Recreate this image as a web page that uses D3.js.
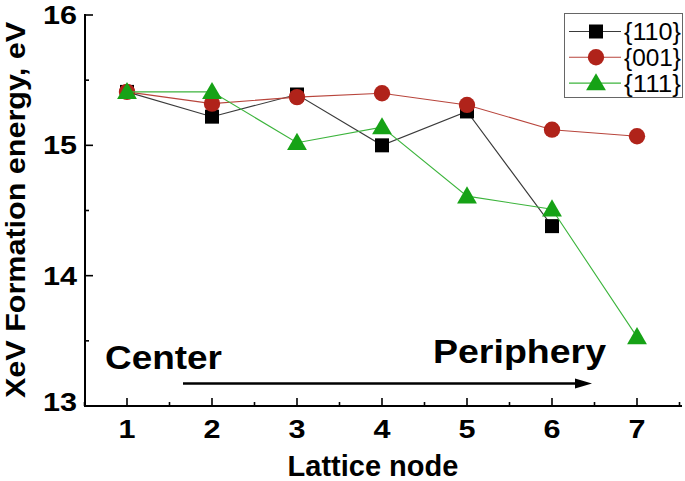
<!DOCTYPE html>
<html>
<head>
<meta charset="utf-8">
<script src="https://cdn.jsdelivr.net/npm/d3@7"></script>
<style>
  html, body { margin: 0; padding: 0; background: #fff; }
  svg { display: block; font-family: "Liberation Sans", Arial, sans-serif; }
</style>
</head>
<body>
<svg id="chart" width="685" height="481"></svg>
<script>
// ---- data ----
const nodes = [1, 2, 3, 4, 5, 6, 7];
const e110 = [15.41, 15.22, 15.39, 15.00, 15.26, 14.38];
const e001 = [15.41, 15.32, 15.37, 15.40, 15.31, 15.12, 15.07];
const e111 = [15.41, 15.41, 15.02, 15.14, 14.61, 14.51, 13.53];
const seriesNames = ["{110}", "{001}", "{111}"];
const xTicks = [1, 2, 3, 4, 5, 6, 7];
const yTicks = [13, 14, 15, 16];
const xTitle = "Lattice node";
const yTitle = "XeV Formation energy, eV";
const leftNote = "Center";
const rightNote = "Periphery";

const svg = d3.select("#chart");
const x = d3.scaleLinear().domain([0.5, 7.5]).range([84.5, 679.5]);
const y = d3.scaleLinear().domain([13, 16]).range([406, 15]);

const series = [
  { name: seriesNames[0], values: e110, line: "#3a3a3a", fill: "#000000", shape: d3.symbolSquare, size: 196 },
  { name: seriesNames[1], values: e001, line: "#b8453c", fill: "#b0231a", shape: d3.symbolCircle, size: 210 },
  { name: seriesNames[2], values: e111, line: "#3cb43c", fill: "#16a216", shape: d3.symbolTriangle, size: 170 }
];

// ---- axes ----
const axisG = svg.append("g");
axisG.append("line").attr("x1", 85).attr("x2", 682).attr("y1", y(13)).attr("y2", y(13))
  .attr("stroke", "#000").attr("stroke-width", 2);
axisG.append("line").attr("x1", 85).attr("x2", 85).attr("y1", y(13) + 1).attr("y2", y(16) - 1)
  .attr("stroke", "#000").attr("stroke-width", 2);

// x ticks (inward)
d3.range(0.5, 7.51, 0.5).forEach(v => {
  const major = Number.isInteger(v);
  axisG.append("line").attr("x1", x(v)).attr("x2", x(v))
    .attr("y1", y(13)).attr("y2", y(13) - (major ? 8 : 4))
    .attr("stroke", "#000").attr("stroke-width", 1.6);
});
xTicks.forEach(v => {
  axisG.append("text").attr("x", x(v)).attr("y", 438)
    .attr("text-anchor", "middle").attr("font-size", 25).attr("font-weight", "bold")
    .attr("textLength", 17).attr("lengthAdjust", "spacingAndGlyphs")
    .text(v);
});
// y ticks (inward)
d3.range(13, 16.01, 0.5).forEach(v => {
  const major = Number.isInteger(v);
  axisG.append("line").attr("x1", 85).attr("x2", 85 + (major ? 8 : 4))
    .attr("y1", y(v)).attr("y2", y(v))
    .attr("stroke", "#000").attr("stroke-width", 1.6);
});
yTicks.forEach(v => {
  axisG.append("text").attr("x", 77).attr("y", y(v) + 9 - (v === 13 ? 4 : 0))
    .attr("text-anchor", "end").attr("font-size", 25).attr("font-weight", "bold")
    .attr("textLength", 34).attr("lengthAdjust", "spacingAndGlyphs")
    .text(v);
});

// titles
svg.append("text").attr("x", 373).attr("y", 476).attr("text-anchor", "middle")
  .attr("font-size", 29).attr("font-weight", "bold").text(xTitle);
svg.append("text").attr("transform", "translate(25,210) rotate(-90)")
  .attr("text-anchor", "middle").attr("font-size", 27).attr("font-weight", "bold")
  .attr("textLength", 376).attr("lengthAdjust", "spacingAndGlyphs").text(yTitle);

// annotations
svg.append("text").attr("x", 105).attr("y", 369).attr("font-size", 33).attr("font-weight", "bold")
  .attr("textLength", 117).attr("lengthAdjust", "spacingAndGlyphs").text(leftNote);
svg.append("text").attr("x", 433).attr("y", 363).attr("font-size", 33).attr("font-weight", "bold")
  .attr("textLength", 173).attr("lengthAdjust", "spacingAndGlyphs").text(rightNote);
svg.append("line").attr("x1", 183).attr("x2", 578).attr("y1", 383.5).attr("y2", 383.5)
  .attr("stroke", "#000").attr("stroke-width", 2.5);
svg.append("path").attr("d", "M592,383.5 L575,378.5 L575,388.5 Z").attr("fill", "#000");

// ---- series ----
const line = d3.line().x((d, i) => x(nodes[i])).y(d => y(d));
series.forEach(s => {
  const g = svg.append("g");
  g.append("path").datum(s.values).attr("d", line)
    .attr("fill", "none").attr("stroke", s.line).attr("stroke-width", 1.1);
  g.selectAll("path.m").data(s.values).join("path").attr("class", "m")
    .attr("transform", (d, i) => `translate(${x(nodes[i])},${y(d) + (s.shape === d3.symbolTriangle ? 1.5 : 0)})`)
    .attr("d", d3.symbol().type(s.shape).size(s.size))
    .attr("fill", s.fill);
});

// ---- legend ----
const leg = svg.append("g");
leg.append("rect").attr("x", 564.5).attr("y", 13.5).attr("width", 118).attr("height", 84)
  .attr("fill", "#fff").attr("stroke", "#666").attr("stroke-width", 1);
series.forEach((s, i) => {
  const cy = 31.5 + i * 25.8;
  leg.append("line").attr("x1", 569).attr("x2", 621).attr("y1", cy).attr("y2", cy)
    .attr("stroke", s.line).attr("stroke-width", 1.1);
  leg.append("path").attr("transform", `translate(596,${cy + (s.shape === d3.symbolTriangle ? 1.5 : 0)})`)
    .attr("d", d3.symbol().type(s.shape).size(s.size)).attr("fill", s.fill);
  leg.append("text").attr("x", 624).attr("y", cy + 8.5).attr("font-size", 23)
    .attr("textLength", 57).attr("lengthAdjust", "spacingAndGlyphs").text(s.name);
});
</script>
</body>
</html>
